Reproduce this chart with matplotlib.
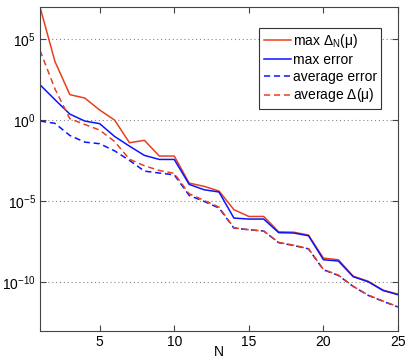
import numpy as np
import matplotlib
matplotlib.use("Agg")
import matplotlib.pyplot as plt
from matplotlib.ticker import FixedLocator, NullLocator, FuncFormatter

N = list(range(1, 26))
# log10 values
max_delta_log = [7.0, 3.64, 1.59, 1.38, 0.64, 0.02, -1.38, -1.23, -2.2, -2.2,
                 -3.87, -4.07, -4.36, -5.51, -5.93, -5.93, -6.88, -6.90, -7.08,
                 -8.50, -8.60, -9.62, -9.93, -10.48, -10.73]
max_error_log = [2.2, 1.28, 0.39, -0.04, -0.2, -0.99, -1.59, -2.16, -2.41, -2.41,
                 -3.95, -4.28, -4.42, -6.03, -6.09, -6.09, -6.93, -6.95, -7.12,
                 -8.60, -8.68, -9.65, -9.96, -10.50, -10.76]
avg_error_log = [-0.04, -0.18, -0.93, -1.34, -1.44, -1.88, -2.47, -3.13, -3.25, -3.36,
                 -4.63, -5.0, -5.41, -6.65, -6.75, -6.83, -7.55, -7.72, -7.93,
                 -9.22, -9.57, -10.25, -10.8, -11.17, -11.52]
avg_delta_log = [4.32, 1.95, 0.1, -0.25, -0.6, -1.3, -2.4, -2.8, -3.09, -3.27,
                 -4.53, -4.94, -5.35, -6.63, -6.75, -6.83, -7.53, -7.70, -7.92,
                 -9.20, -9.55, -10.24, -10.78, -11.15, -11.50]

max_delta = [10 ** v for v in max_delta_log]
max_error = [10 ** v for v in max_error_log]
avg_error = [10 ** v for v in avg_error_log]
avg_delta = [10 ** v for v in avg_delta_log]

plt.rcParams['font.family'] = ['Liberation Sans', 'DejaVu Sans']
plt.rcParams['mathtext.fontset'] = 'custom'
plt.rcParams['mathtext.rm'] = 'Liberation Sans'
plt.rcParams['mathtext.it'] = 'Liberation Sans'

red = '#e8401c'
blue = '#0a14ff'

fig = plt.figure(figsize=(4.06, 3.61), dpi=100)
ax = fig.add_axes([40 / 406, 1 - 331 / 361, 358 / 406, 324 / 361])

ax.semilogy(N, max_delta, color=red, lw=1.1, label=r'max $\Delta_{\mathrm{N}}(\mu)$')
ax.semilogy(N, max_error, color=blue, lw=1.1, label='max error')
ax.semilogy(N, avg_error, color=blue, lw=1.1, ls=(0, (4, 2.5)), label='average error')
ax.semilogy(N, avg_delta, color=red, lw=1.1, ls=(0, (4, 2.5)), label=r'average $\Delta(\mu)$')

ax.set_xlim(1, 25)
ax.set_ylim(1e-13, 1e7)
ax.set_xticks([5, 10, 15, 20, 25])
ax.yaxis.set_major_locator(FixedLocator([1e-10, 1e-5, 1e0, 1e5]))
ax.yaxis.set_minor_locator(NullLocator())
ax.yaxis.set_major_formatter(FuncFormatter(lambda v, p: r'$10^{%d}$' % int(round(np.log10(v)))))
ax.grid(True, axis='y', ls=(0, (1, 2.5)), color='#888888', lw=0.8)
ax.tick_params(direction='in', top=True, right=True, labelsize=10, length=4,
               color='#444444', pad=3)
for s in ax.spines.values():
    s.set_color('#444444')
ax.set_xlabel('N', fontsize=10)
ax.xaxis.set_label_coords(0.5, -0.044)

leg = ax.legend(handles=ax.get_lines(), loc='upper right', fontsize=10,
                handlelength=2.0, handletextpad=0.1, borderpad=0.3,
                labelspacing=0.2, fancybox=False, framealpha=1,
                edgecolor='#333333', bbox_to_anchor=(0.972, 0.957))
leg.get_frame().set_linewidth(0.8)

fig.savefig('out.png', dpi=100)
